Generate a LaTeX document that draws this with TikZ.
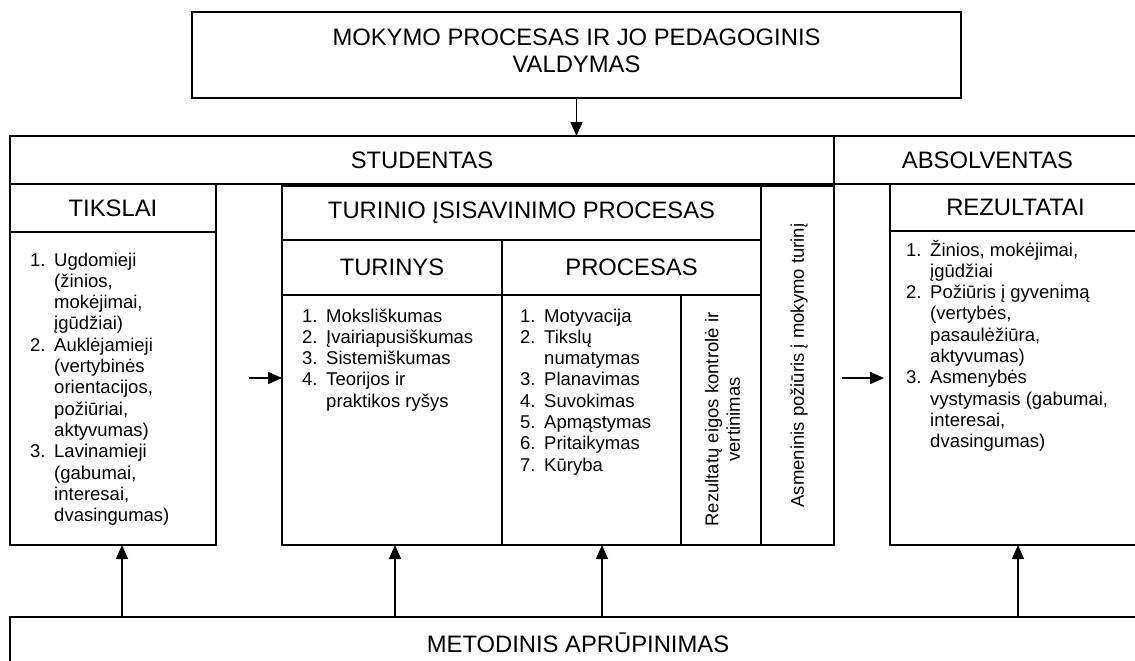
\documentclass[tikz,border=0pt]{standalone}
\usepackage{fontspec}
\setmainfont{Liberation Sans}
\usetikzlibrary{arrows.meta}
\newcommand{\hdrfont}{\fontsize{23.8}{27.4}\selectfont}
\newcommand{\lstfont}{\fontsize{18.5}{21.3}\selectfont}
\newcommand{\itemlist}[1]{\begin{tabular}[t]{@{}l@{\hspace{8.6pt}}l@{}}#1\end{tabular}}
\begin{document}
\begin{tikzpicture}[x=1pt,y=-1pt,
  box/.style={draw, line width=1.5pt, inner sep=0pt, outer sep=0pt, font=\hdrfont, align=center},
  vbox/.style={box, font=\lstfont},
  arr/.style={line width=1.7pt, -{Triangle[length=14pt,width=12pt]}},
  lst/.style={anchor=base west, inner sep=0pt, font=\lstfont}]
\useasboundingbox (0,0) rectangle (1135,661);
\clip (0,0) rectangle (1135,661);

% top box
\node[box, minimum width=769, minimum height=86] (title) at (576.5,55)
  {\begin{tabular}{@{}c@{}}MOKYMO PROCESAS IR JO PEDAGOGINIS\\VALDYMAS\\[3pt]\end{tabular}};

% bands
\node[box, minimum width=824, minimum height=48] (stud) at (422,160) {STUDENTAS};
\node[box, minimum width=307, minimum height=48] (absol) at (987.5,160) {ABSOLVENTAS};

% TIKSLAI
\node[box, minimum width=206, minimum height=48] (tikHead) at (113,208) {TIKSLAI};
\node[box, minimum width=206, minimum height=313] (tikBody) at (113,388.5) {};

% TURINIO ISISAVINIMO PROCESAS
\node[box, minimum width=479, minimum height=54] (turHead) at (521.5,213) {TURINIO ĮSISAVINIMO PROCESAS};
\node[vbox, minimum width=73, minimum height=359] (asm) at (797.5,365.5) {};
\node[rotate=90, font=\lstfont, inner sep=0pt] (asmText) at (799,365.5) {Asmeninis požiūris į mokymo turinį};
\node[box, minimum width=220, minimum height=55] (tnHead) at (392,267.5) {TURINYS};
\node[box, minimum width=259, minimum height=55] (prHead) at (631.5,267.5) {PROCESAS};
\node[box, minimum width=220, minimum height=250] (tnBody) at (392,420) {};
\node[box, minimum width=179, minimum height=250] (prBody) at (591.5,420) {};
\node[vbox, minimum width=80, minimum height=250] (rzCol) at (721,420) {};
\node[rotate=90, font=\lstfont, inner sep=0pt, align=center] (rzText) at (722.5,419.5)
  {Rezultatų eigos kontrolė ir\\vertinimas};

% REZULTATAI
\node[box, minimum width=251, minimum height=47] (rezHead) at (1015.5,207.5) {REZULTATAI};
\node[box, minimum width=251, minimum height=314] (rezBody) at (1015.5,388) {};

% METODINIS
\node[box, minimum width=1136, minimum height=52] (metod) at (578,643) {METODINIS APRŪPINIMAS};

% lists
\node[lst] (tikList) at (30,266) {\itemlist{
1. & Ugdomieji\\
   & (žinios,\\
   & mokėjimai,\\
   & įgūdžiai)\\
2. & Auklėjamieji\\
   & (vertybinės\\
   & orientacijos,\\
   & požiūriai,\\
   & aktyvumas)\\
3. & Lavinamieji\\
   & (gabumai,\\
   & interesai,\\
   & dvasingumas)}};

\node[lst] (tnList) at (302,322) {\itemlist{
1. & Moksliškumas\\
2. & Įvairiapusiškumas\\
3. & Sistemiškumas\\
4. & Teorijos ir\\
   & praktikos ryšys}};

\node[lst] (prList) at (520,322) {\itemlist{
1. & Motyvacija\\
2. & Tikslų\\
   & numatymas\\
3. & Planavimas\\
4. & Suvokimas\\
5. & Apmąstymas\\
6. & Pritaikymas\\
7. & Kūryba}};

\node[lst] (rezList) at (906,256) {\itemlist{
1. & Žinios, mokėjimai,\\
   & įgūdžiai\\
2. & Požiūris į gyvenimą\\
   & (vertybės,\\
   & pasaulėžiūra,\\
   & aktyvumas)\\
3. & Asmenybės\\
   & vystymasis (gabumai,\\
   & interesai,\\
   & dvasingumas)}};

% connectors
\draw[arr] (title.south) -- (title.south |- stud.north);
\coordinate (ha) at (249,378);
\coordinate (hb) at (842,378);
\draw[arr] (ha) -- (ha -| tnBody.west);
\draw[arr, shorten >=6pt] (hb) -- (hb -| rezBody.west);
\coordinate (c1) at (122,580);
\coordinate (c2) at (395,580);
\coordinate (c3) at (602,580);
\coordinate (c4) at (1018,580);
\draw[arr] (c1 |- metod.north) -- (c1 |- tikBody.south);
\draw[arr] (c2 |- metod.north) -- (c2 |- tnBody.south);
\draw[arr] (c3 |- metod.north) -- (c3 |- prBody.south);
\draw[arr] (c4 |- metod.north) -- (c4 |- rezBody.south);
\end{tikzpicture}
\end{document}
